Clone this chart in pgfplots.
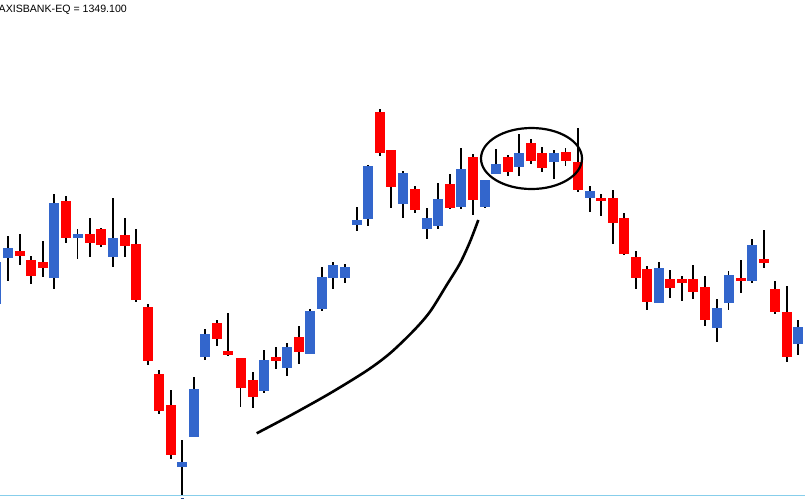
\documentclass[border=0pt]{standalone}
\usepackage{fontspec}
\setmainfont{Liberation Sans}
\usepackage{pgfplots}
\usepackage{pgfplotstable}
\pgfplotsset{compat=1.18}

\definecolor{upblue}{RGB}{51,102,204}
\definecolor{downred}{RGB}{255,0,0}
\definecolor{axisline}{RGB}{135,206,235}

% candles in screen units: x = centre, top/bot = body, hi/lo = wick
\pgfplotstableread{
x     top bot hi  lo
-3.6  262 304 262 304
8     248 258 236 281
54    203 278 194 289
77.5  234 238 229 259
113   238 257 198 267
182   462 467 440 495
194   389 437 377 437
205   334 357 329 360
264   360 391 350 393
287   347 368 343 376
310   311 354 309 354
322   277 309 267 311
333   265 278 262 289
345   267 278 264 283
357   220 225 207 231
368   166 219 165 226
403   173 204 171 218
427   218 229 208 239
438   199 226 183 229
461   169 207 148 209
485   180 207 180 208
496   164 174 149 174
519   153 167 134 176
554   153 162 150 179
590   191 198 186 212
659   268 303 262 303
717   308 328 299 342
728.5 275 303 271 310
752   245 281 239 283
798   327 344 320 355
}\upcandles

\pgfplotstableread{
x     top bot hi  lo
20    251 256 234 265
31    260 276 256 284
43    262 268 241 277
66    201 238 196 243
90    234 243 218 257
101   229 245 228 247
125   235 246 218 257
136   244 300 229 302
148   307 361 304 365
159   374 411 370 414
171   405 455 390 459
217   323 339 320 346
228   351 355 313 356
240.5 358 388 358 407
253   380 397 372 408
276   357 361 347 369
299   337 352 326 364
380   112 153 109 156
391   150 187 150 208
415   189 210 186 213
450   184 208 174 209
473   157 200 154 215
508   157 172 155 176
531   143 161 139 164
542   153 168 147 172
565.5 152 161 148 166
578   162 190 128 192
601   198 201 194 216
613   198 223 190 244
624   218 254 213 255
636   257 278 251 289
647   269 302 266 310
670   279 288 270 298
682   279 283 276 301
693   279 292 265 299
705   287 320 276 326
741   278 281 260 293
764   259 263 230 268
775   289 312 281 314
787   312 357 286 362
}\downcandles

\pgfplotsset{
  wick/.style={draw=none, mark=none, forget plot,
    error bars/.cd, y dir=both, y explicit, error mark=none,
    error bar style={draw=black, line width=1.2pt}},
  body/.style={draw=none, mark=none, forget plot,
    error bars/.cd, y dir=both, y explicit, error mark=none,
    error bar style={draw=#1, line width=10pt}},
}

\begin{document}
\begin{tikzpicture}
\begin{axis}[
  width=805pt, height=499pt,
  scale only axis,
  xmin=0, xmax=805,
  ymin=0, ymax=499,
  y dir=reverse,
  hide axis,
]
\addplot[axisline, line width=1pt, forget plot] coordinates {(0,495.3) (805,495.3)};

\addplot[wick] table[x=x, y expr={(\thisrow{hi}+\thisrow{lo})/2},
  y error expr={(\thisrow{lo}-\thisrow{hi})/2}] {\upcandles};
\addplot[wick] table[x=x, y expr={(\thisrow{hi}+\thisrow{lo})/2},
  y error expr={(\thisrow{lo}-\thisrow{hi})/2}] {\downcandles};

\addplot[body=upblue] table[x=x, y expr={(\thisrow{top}+\thisrow{bot})/2},
  y error expr={(\thisrow{bot}-\thisrow{top})/2}] {\upcandles};
\addplot[body=downred] table[x=x, y expr={(\thisrow{top}+\thisrow{bot})/2},
  y error expr={(\thisrow{bot}-\thisrow{top})/2}] {\downcandles};

% small cursor mark under the low
\addplot[upblue!70!black, line width=1pt, forget plot] coordinates {(180.5,498) (183.5,498)};

% hand-drawn annotations
\addplot[black, line width=2.6pt, smooth, forget plot] coordinates {
  (256.7,433.3) (290,415.7) (330,393.3) (366.7,370.7) (390,353.3)
  (413.3,331) (430,311.7) (446.7,285) (460,263.3) (470,241.7) (478.3,220)};
\draw[black, line width=2.2pt] (axis cs:531.5,158.5) ellipse [x radius=50.5, y radius=30.5];

\node[anchor=base west, inner sep=0pt, font=\fontsize{10.6}{12}\selectfont]
  at (axis cs:-1.5,12) {AXISBANK-EQ = 1349.100};
\end{axis}
\pgfresetboundingbox
\useasboundingbox (current axis.south west) rectangle (current axis.north east);
\end{tikzpicture}
\end{document}
